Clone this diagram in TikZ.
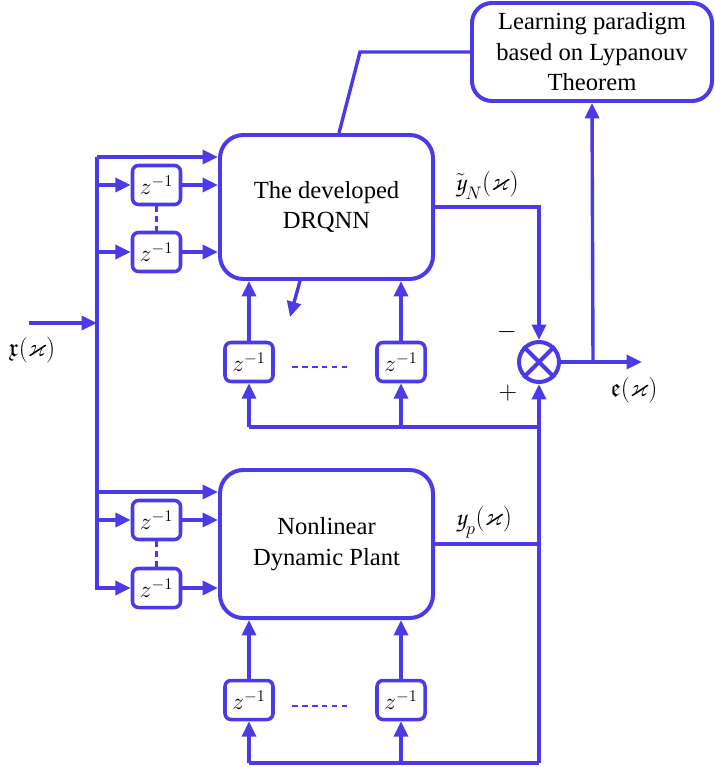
\RequirePackage{fix-cm}
\documentclass[tikz,border=0pt]{standalone}
\usepackage{amsmath,amssymb}
\usepackage{fontspec}
\setmainfont{Liberation Serif}
\usetikzlibrary{arrows.meta,positioning,calc}
\definecolor{sigblue}{RGB}{74,58,232}
\newcommand{\scry}{\text{\fontencoding{T1}\fontfamily{pzc}\selectfont y}}
\tikzset{
	box/.style={draw=sigblue, line width=3.4pt, rounded corners=7mm, align=center,
		fill=white, font=\fontsize{21}{26}\selectfont},
	zbox/.style={draw=sigblue, line width=3pt, rounded corners=1.8mm, inner sep=0pt,
		minimum width=1.44cm, minimum height=1.17cm, font=\fontsize{20}{22}\selectfont},
	arrow/.style={-{Triangle[length=4.6mm,width=4.2mm]}, sigblue, line width=2.9pt},
	wire/.style={sigblue, line width=2.9pt},
	siglabel/.style={font=\fontsize{22}{24}\selectfont, inner sep=0pt}
}

\begin{document}
\begin{tikzpicture}[x=0.03cm, y=-0.03cm,
	sumnode/.style={circle, draw=sigblue, line width=3.4pt, minimum size=1.2cm, inner sep=0pt},
	dotted wire/.style={sigblue, line width=2pt, dash pattern=on 5pt off 3.5pt},
	]
	\useasboundingbox (0,0) rectangle (714,767);
	
	%% -- Main blocks
	\node[box, minimum width=7.2cm, minimum height=2.94cm, rounded corners=6mm] (learn) at (592,52)
	{Learning paradigm\\based on Lypanouv\\Theorem};
	\node[box, minimum width=6.39cm, minimum height=4.32cm] (drqnn) at (326.5,207)
	{The developed\\DRQNN};
	\node[box, minimum width=6.39cm, minimum height=4.44cm] (plant) at (326.5,544)
	{Nonlinear\\Dynamic Plant};
	
	%% -- Delay units
	\node[zbox] (dn1) at (156.5,185) {$z^{-1}$};
	\node[zbox] (dn2) at (156.5,252) {$z^{-1}$};
	\node[zbox] (fn1) at (249,362) {$z^{-1}$};
	\node[zbox] (fn2) at (401,362) {$z^{-1}$};
	\node[zbox] (dp1) at (156.5,520) {$z^{-1}$};
	\node[zbox] (dp2) at (156.5,588) {$z^{-1}$};
	\node[zbox] (fp1) at (249,700) {$z^{-1}$};
	\node[zbox] (fp2) at (401,700) {$z^{-1}$};
	
	%% -- Summing junction
	\node[sumnode] (sum) at (539,362) {};
	\draw[wire, line width=3.4pt] (sum.north west) -- (sum.south east)
	(sum.north east) -- (sum.south west);
	
	%% -- Helper points
	\coordinate (in) at (29,323);
	\coordinate (bustop) at (97,157);
	\coordinate (busmid) at (97,492);
	\coordinate (busbot) at (97,590);
	\coordinate (fbn) at (539,427);
	\coordinate (ret) at (539,763);
	\coordinate (tap) at (593,362);
	\coordinate (eout) at (642,362);
	
	%% -- Input bus and tapped delay lines
	\draw[wire] (bustop) -- (busbot);
	\draw[arrow] (in) -- (in -| bustop);
	\draw[arrow] (bustop) -- (bustop -| drqnn.west);
	\draw[arrow] (busmid) -- (busmid -| plant.west);
	\foreach \d/\blk in {dn1/drqnn, dn2/drqnn, dp1/plant, dp2/plant}{
		\draw[arrow] (\d.west -| bustop) -- (\d.west);
		\draw[arrow] (\d.east) -- (\d.east -| \blk.west);
	}
	\draw[dotted wire] (dn1.south) -- (dn2.north);
	\draw[dotted wire] (dp1.south) -- (dp2.north);
	
	%% -- Outputs to the summing junction
	\draw[arrow] (drqnn.east) -- (drqnn.east -| sum) -- (sum.north);
	\draw[arrow] (ret) -- (sum.south);
	\draw[wire] (plant.east) -- (plant.east -| ret);
	
	%% -- Feedback delays (network)
	\draw[wire] (fbn) -- (fbn -| fn1);
	\foreach \d in {fn1, fn2}{
		\draw[arrow] (fbn -| \d) -- (\d.south);
		\draw[arrow] (\d.north) -- (\d.north |- drqnn.south);
	}
	\draw[dotted wire] ($(fn1.east)+(17,5)$) -- ($(fn2.west)+(-25,5)$);
	
	%% -- Feedback delays (plant)
	\draw[wire] (ret) -- (ret -| fp1);
	\foreach \d in {fp1, fp2}{
		\draw[arrow] (ret -| \d) -- (\d.south);
		\draw[arrow] (\d.north) -- (\d.north |- plant.south);
	}
	\draw[dotted wire] ($(fp1.east)+(17,6)$) -- ($(fp2.west)+(-25,6)$);
	
	%% -- Error signal and learning law
	\draw[arrow] (sum.east) -- (eout);
	\draw[arrow] (tap) -- (learn.south);
	\draw[wire] (learn.west) -- ++(-110,0) -- ($(drqnn.north)+(12.5,0)$);
	\draw[arrow] ($(drqnn.south)+(-26.5,0)$) -- ++(-10,36);
	
	%% -- Signal labels
	\node[siglabel] (yn) at (487,185) {$\tilde{\scry}_N(\varkappa)$};
	\node[siglabel] (yp) at (484,522) {$\scry_p(\varkappa)$};
	\node[siglabel] (xin) at (32,350) {$\mathfrak{x}(\varkappa)$};
	\node[siglabel] (err) at (634,390) {$\mathfrak{e}(\varkappa)$};
	\node[siglabel] (minus) at (507,332) {$-$};
	\node[siglabel] (plus) at (508,393) {$+$};
	
\end{tikzpicture}
\end{document}
